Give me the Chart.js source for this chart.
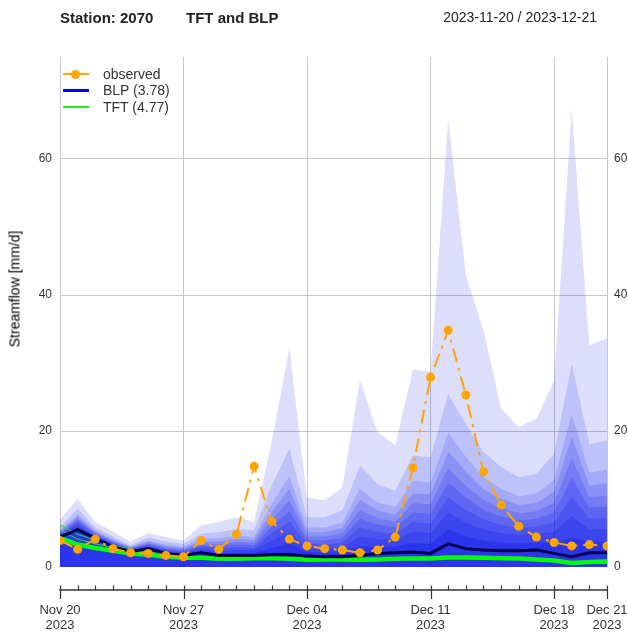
<!DOCTYPE html>
<html>
<head>
<meta charset="utf-8">
<script src="https://cdn.jsdelivr.net/npm/chart.js@4.4.1/dist/chart.umd.min.js"></script>
<style>
  body { margin: 0; background: #fff; font-family: "Liberation Sans", Arial, sans-serif; }
  #wrap { position: relative; width: 627px; height: 634px; overflow: hidden; }
  #c { position: absolute; left: 0; top: 0; }
  .t { position: absolute; white-space: nowrap; color: #333; line-height: 17px; font-weight: normal; }
  .sw { position: absolute; height: 0; }
  .dot { position: absolute; width: 9px; height: 9px; border-radius: 50%; background: #ffa500; }
</style>
</head>
<body>
<div id="wrap">
  <canvas id="c" width="627" height="634"></canvas>
  <div class="t" style="left:60px;top:8.5px;font-size:15px;font-weight:bold;color:#222">Station: 2070</div>
  <div class="t" style="left:186px;top:8.5px;font-size:15px;font-weight:bold;color:#222">TFT and BLP</div>
  <div class="t" style="right:30px;top:9px;font-size:14px;color:#222">2023-11-20 / 2023-12-21</div>
  <div class="t" style="left:15px;top:289px;font-size:14px;color:#000;transform:translate(-50%,-50%) rotate(-90deg)">Streamflow [mm/d]</div>

  <div class="sw" style="left:63px;top:73px;width:26px;border-top:2px solid #ffa500"></div>
  <div class="dot" style="left:71px;top:69.5px"></div>
  <div class="t" style="left:103px;top:65.5px;font-size:14px">observed</div>
  <div class="sw" style="left:63px;top:89px;width:26px;border-top:3px solid #0000ee"></div>
  <div class="t" style="left:103px;top:82px;font-size:14px">BLP (3.78)</div>
  <div class="sw" style="left:63px;top:106px;width:26px;border-top:2.5px solid #22ee22"></div>
  <div class="t" style="left:103px;top:99px;font-size:14px">TFT (4.77)</div>
</div>
<script>
// daily values, 2023-11-20 .. 2023-12-21
const dates = ['Nov 20','Nov 21','Nov 22','Nov 23','Nov 24','Nov 25','Nov 26','Nov 27','Nov 28','Nov 29','Nov 30',
  'Dec 01','Dec 02','Dec 03','Dec 04','Dec 05','Dec 06','Dec 07','Dec 08','Dec 09','Dec 10','Dec 11','Dec 12',
  'Dec 13','Dec 14','Dec 15','Dec 16','Dec 17','Dec 18','Dec 19','Dec 20','Dec 21'];

const observed = [3.9,2.6,4.1,2.7,2.1,2.0,1.7,1.5,3.9,2.6,4.8,14.8,6.7,4.1,3.1,2.7,2.5,2.1,2.5,4.4,14.6,27.9,34.8,25.3,14.0,9.1,6.0,4.4,3.6,3.1,3.3,3.1];
const blp = [4.4,5.5,4.2,3.0,2.3,2.7,2.0,1.7,2.1,1.7,1.7,1.7,1.8,1.85,1.6,1.5,1.5,1.7,2.0,2.1,2.2,2.0,3.4,2.7,2.5,2.4,2.4,2.5,2.0,1.5,2.1,2.1];
const tft = [4.3,3.3,2.8,2.4,2.0,1.8,1.5,1.35,1.35,1.2,1.2,1.3,1.3,1.2,1.05,1.1,1.1,1.05,1.1,1.2,1.25,1.25,1.4,1.4,1.35,1.3,1.25,1.1,0.95,0.6,0.75,0.8];
const tftMemberA = [6.2,4.8,4.0,3.2,2.6,2.2,1.9,1.6];
const tftMemberB = [5.4,4.1,3.4,2.9,2.4,2.0,1.7,1.45];

// BLP ensemble envelopes, outermost first
const band1 = [7.0,10.0,6.6,5.2,3.7,5.0,4.4,3.9,6.1,6.6,7.3,6.6,18.5,32.2,10.2,9.8,11.7,27.5,19.8,17.9,29.0,28.7,65.9,42.9,34.8,23.3,20.6,21.8,27.4,67.4,32.6,33.6];
const band2 = [5.8,8.6,5.8,4.5,3.2,4.3,3.8,3.4,4.9,5.1,5.6,5.4,12.0,17.4,7.3,7.3,8.3,14.9,12.2,11.2,16.4,16.1,25.4,21.0,16.9,14.7,13.2,13.7,16.6,29.9,18.1,18.6];
const band3 = [5.4,7.8,5.4,4.1,3.0,3.9,3.3,3.0,4.2,4.2,4.6,4.4,9.3,13.4,5.8,5.8,6.5,11.5,9.5,8.8,12.7,12.4,19.7,16.2,13.2,11.5,10.4,10.8,12.8,22.5,13.9,14.3];
const band4 = [5.3,7.4,5.2,3.9,2.9,3.7,3.1,2.8,3.8,3.8,4.1,4.0,8.1,11.5,5.1,5.1,5.7,9.9,8.3,7.7,10.8,10.7,17.0,14.0,11.4,10.0,9.1,9.4,11.1,19.1,12.0,12.3];
const band5 = [5.1,7.1,5.0,3.8,2.8,3.5,2.9,2.6,3.5,3.4,3.7,3.6,7.0,9.8,4.5,4.5,5.0,8.4,7.2,6.7,9.4,9.2,14.6,12.0,9.8,8.7,7.9,8.2,9.4,16.0,10.3,10.5];
const band6 = [5.0,6.8,4.9,3.6,2.7,3.4,2.7,2.4,3.2,3.1,3.3,3.2,6.0,8.2,3.9,3.9,4.3,7.1,6.2,5.8,8.0,7.8,12.4,10.2,8.4,7.4,6.8,7.1,8.0,13.1,8.7,8.9];
const band7 = [4.8,6.5,4.7,3.5,2.6,3.2,2.6,2.2,3.0,2.8,2.9,2.8,5.0,6.7,3.4,3.3,3.6,5.8,5.2,4.9,6.6,6.4,10.2,8.4,7.0,6.2,5.7,6.0,6.5,10.3,7.1,7.2];
const band8 = [4.7,6.2,4.5,3.3,2.5,3.0,2.4,2.1,2.7,2.4,2.5,2.5,3.9,5.1,2.8,2.7,2.9,4.5,4.1,4.0,5.2,5.0,8.0,6.5,5.5,5.0,4.7,4.9,5.1,7.5,5.5,5.6];
const band9 = [4.6,5.8,4.4,3.2,2.4,2.9,2.2,1.9,2.4,2.0,2.1,2.1,2.8,3.4,2.2,2.1,2.2,3.0,3.0,3.0,3.6,3.4,5.6,4.5,3.9,3.6,3.5,3.6,3.5,4.3,3.7,3.8];

const majorDays = [0, 7, 14, 21, 28, 31];
const majorLabels = ['Nov 20', 'Nov 27', 'Dec 04', 'Dec 11', 'Dec 18', 'Dec 21'];
const yearLabel = '2023';
const yTicks = [0, 20, 40, 60];

const FONT = '"Liberation Sans", Arial, sans-serif';
const pts = arr => arr.map((v, i) => ({ x: i, y: v }));

const bands = [band1, band2, band3, band4, band5, band6, band7, band8, band9];
const bandAlpha = [0.14, 0.14, 0.14, 0.16, 0.18, 0.2, 0.22, 0.25, 0.3];
const bandSets = bands.map((b, k) => ({
  data: pts(b),
  fill: 'origin',
  backgroundColor: `rgba(10,20,235,${bandAlpha[k]})`,
  borderWidth: 0,
  pointRadius: 0,
  order: 20 + k
}));

// date axis sits below the plot, detached from it
const dateAxis = {
  id: 'dateAxis',
  afterDraw(chart) {
    const ctx = chart.ctx;
    const xs = chart.scales.x;
    const y0 = 590;
    ctx.save();
    ctx.strokeStyle = '#333';
    ctx.lineWidth = 1.5;
    ctx.beginPath();
    ctx.moveTo(xs.getPixelForValue(0) - 0.75, y0);
    ctx.lineTo(xs.getPixelForValue(dates.length - 1) + 0.75, y0);
    ctx.stroke();
    ctx.lineWidth = 1.2;
    for (let i = 0; i < dates.length; i++) {
      const px = Math.round(xs.getPixelForValue(i)) + 0.5;
      const major = majorDays.includes(i);
      ctx.beginPath();
      ctx.moveTo(px, 585.5);
      ctx.lineTo(px, major ? 599 : y0);
      ctx.stroke();
    }
    ctx.fillStyle = '#333';
    ctx.font = '13px ' + FONT;
    ctx.textAlign = 'center';
    ctx.textBaseline = 'middle';
    majorDays.forEach((d, k) => {
      const px = xs.getPixelForValue(d);
      ctx.fillText(majorLabels[k], px, 610);
      ctx.fillText(yearLabel, px, 625);
    });
    ctx.restore();
  }
};

const keepTicks = s => { s.ticks = s.ticks.filter(t => yTicks.includes(t.value)); };

new Chart(document.getElementById('c'), {
  type: 'line',
  data: {
    datasets: [
      {
        data: pts(observed), borderColor: '#ffa500', borderWidth: 2,
        borderDash: [14, 6, 3, 6], pointRadius: 4.5, pointBackgroundColor: '#ffa500',
        pointBorderWidth: 0, fill: false, order: 0
      },
      { data: pts(blp), borderColor: '#00004d', borderWidth: 3, pointRadius: 0, fill: false, order: 1 },
      { data: pts(tft), borderColor: '#00ff00', borderWidth: 4.5, pointRadius: 0, fill: false, order: 2 },
      { data: pts(tftMemberA), borderColor: '#22dd22', borderWidth: 1, pointRadius: 0, fill: false, order: 3 },
      { data: pts(tftMemberB), borderColor: '#22dd22', borderWidth: 1, pointRadius: 0, fill: false, order: 4 },
      ...bandSets
    ]
  },
  options: {
    responsive: false,
    animation: false,
    layout: { padding: { left: 0, right: 0, top: 57, bottom: 67 } },
    plugins: { legend: { display: false }, tooltip: { enabled: false } },
    elements: { line: { tension: 0 } },
    scales: {
      x: {
        type: 'linear', min: 0, max: dates.length - 1,
        afterFit: s => { s.height = 0; },
        ticks: { display: false, stepSize: 1 },
        grid: {
          drawTicks: false,
          color: c => (c.tick && majorDays.includes(c.tick.value)) ? '#c8c8c8' : 'rgba(0,0,0,0)'
        },
        border: { display: false }
      },
      y: {
        min: 0, max: 75,
        afterBuildTicks: keepTicks,
        afterFit: s => { s.width = 60; },
        ticks: { stepSize: 20, padding: 8, color: '#333', font: { family: FONT, size: 12 } },
        grid: { drawTicks: false, color: c => (c.tick && c.tick.value > 0) ? '#c8c8c8' : 'rgba(0,0,0,0)' },
        border: { display: false }
      },
      y2: {
        position: 'right', min: 0, max: 75,
        afterBuildTicks: keepTicks,
        afterFit: s => { s.width = 20; },
        ticks: { stepSize: 20, padding: 7, color: '#333', font: { family: FONT, size: 12 } },
        grid: { drawOnChartArea: false, drawTicks: false },
        border: { display: false }
      }
    }
  },
  plugins: [dateAxis]
});
</script>
</body>
</html>
